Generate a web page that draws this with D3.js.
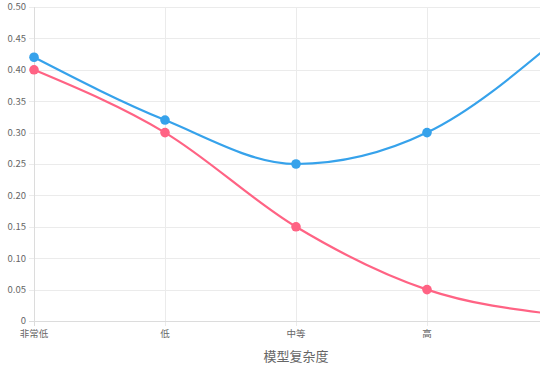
<!DOCTYPE html>
<html>
<head>
<meta charset="utf-8">
<script src="https://cdn.jsdelivr.net/npm/d3@7"></script>
<style>
  body { margin: 0; background: #fff; }
  svg { display: block; font-family: "Noto Sans CJK SC", "Helvetica Neue", Arial, sans-serif; }
</style>
</head>
<body>
<div id="chart"></div>
<script>
var categories = ["非常低", "低", "中等", "高", "非常高"];
var seriesBlue = [0.42, 0.32, 0.25, 0.30, 0.45];
var seriesPink = [0.40, 0.30, 0.15, 0.05, 0.01];
var yTicks = [0, 0.05, 0.10, 0.15, 0.20, 0.25, 0.30, 0.35, 0.40, 0.45, 0.50];
var xTitle = "模型复杂度";

var W = 540, H = 372;
var margin = {top: 7, left: 34, bottom: 51},
    plotRight = 558,   // last category sits just past the visible edge
    plotBottom = H - margin.bottom;

var svg = d3.select("#chart").append("svg")
    .attr("width", W)
    .attr("height", H);

var x = d3.scalePoint()
    .domain(categories)
    .range([margin.left, plotRight]);

var y = d3.scaleLinear()
    .domain([0, 0.5])
    .range([plotBottom, margin.top]);

var gridColor = "#ebebeb";

// horizontal grid
svg.append("g")
  .selectAll("line")
  .data(yTicks)
  .enter().append("line")
    .attr("x1", margin.left - 5)
    .attr("x2", W)
    .attr("y1", function(d) { return Math.round(y(d)) + 0.5; })
    .attr("y2", function(d) { return Math.round(y(d)) + 0.5; })
    .attr("stroke", gridColor)
    .attr("stroke-width", 1);

// vertical grid
svg.append("g")
  .selectAll("line")
  .data(categories)
  .enter().append("line")
    .attr("x1", function(d) { return Math.round(x(d)) + 0.5; })
    .attr("x2", function(d) { return Math.round(x(d)) + 0.5; })
    .attr("y1", margin.top)
    .attr("y2", plotBottom + 5)
    .attr("stroke", gridColor)
    .attr("stroke-width", 1);

// axis baselines
svg.append("line")
    .attr("x1", margin.left + 0.5).attr("x2", margin.left + 0.5)
    .attr("y1", margin.top).attr("y2", plotBottom + 5)
    .attr("stroke", "#dcdcdc");
svg.append("line")
    .attr("x1", margin.left - 5).attr("x2", W)
    .attr("y1", Math.round(y(0)) + 0.5).attr("y2", Math.round(y(0)) + 0.5)
    .attr("stroke", "#dcdcdc");

// y tick labels
svg.append("g")
  .selectAll("text")
  .data(yTicks)
  .enter().append("text")
    .attr("x", margin.left - 8)
    .attr("y", function(d) { return y(d); })
    .attr("dy", "0.35em")
    .attr("text-anchor", "end")
    .attr("fill", "#666")
    .style("font-size", "9.5px")
    .text(function(d) { return d === 0 ? "0" : d.toFixed(2); });

// x tick labels (the last one falls outside the visible area)
svg.append("g")
  .selectAll("text")
  .data(categories.filter(function(d) { return x(d) + 20 < W; }))
  .enter().append("text")
    .attr("x", function(d) { return x(d); })
    .attr("y", plotBottom + 16)
    .attr("text-anchor", "middle")
    .attr("fill", "#666")
    .style("font-size", "9.5px")
    .text(function(d) { return d; });

// axis title
svg.append("text")
    .attr("x", (margin.left + plotRight) / 2)
    .attr("y", plotBottom + 40)
    .attr("text-anchor", "middle")
    .attr("fill", "#666")
    .style("font-size", "13px")
    .text(xTitle);

var line = d3.line()
    .x(function(d, i) { return x(categories[i]); })
    .y(function(d) { return y(d); })
    .curve(d3.curveMonotoneX);

function drawSeries(values, color) {
    svg.append("path")
        .datum(values)
        .attr("fill", "none")
        .attr("stroke", color)
        .attr("stroke-width", 2.2)
        .attr("d", line);

    svg.append("g")
      .selectAll("circle")
      .data(values)
      .enter().append("circle")
        .attr("cx", function(d, i) { return x(categories[i]); })
        .attr("cy", function(d) { return y(d); })
        .attr("r", 4.8)
        .attr("fill", color);
}

drawSeries(seriesPink, "#ff6384");
drawSeries(seriesBlue, "#36a2eb");
</script>
</body>
</html>
